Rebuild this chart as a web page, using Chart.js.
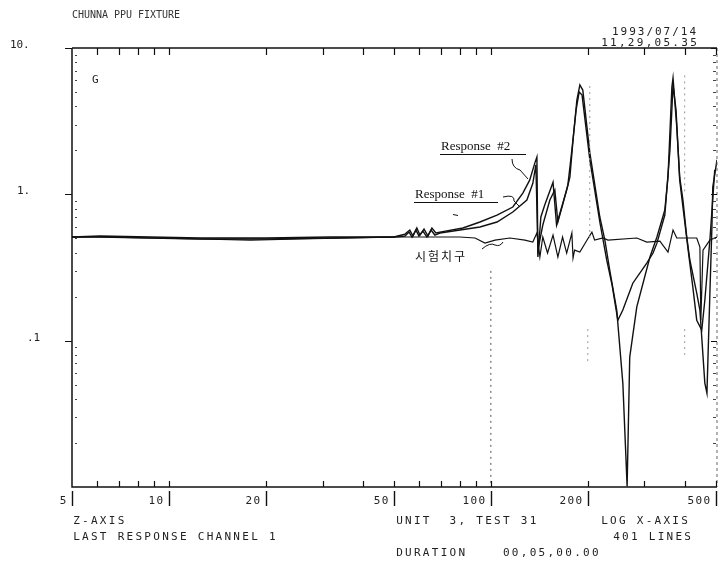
<!DOCTYPE html>
<html><head><meta charset="utf-8">
<script src="https://cdn.jsdelivr.net/npm/chart.js@4.4.1/dist/chart.umd.min.js"></script>
<style>html,body{margin:0;padding:0;background:#fff}#wrap{width:719px;height:563px;position:relative}</style>
</head><body><div id="wrap"><canvas id="c" width="719" height="563"></canvas></div>
<script>
// ---- data (frequency in Hz, response magnitude in G) ----
const freq2 = [5,6.11,8.74,12.5,20,31.6,50,54.1,56.0,57.3,58.9,60.2,62.0,63.8,65.6,67.5,69.5,81.9,92.5,104.5,117,125.7,132,137,139,140,143,147,156,160,166,172,176,180,185,189,193,203,218,226,234,246,257,265,270,284,312,328,347,355,365,368,378,386,395,406,415,436,446,462,469,479,486,489,504];
const resp2 = [0.511,0.519,0.511,0.503,0.503,0.511,0.511,0.535,0.570,0.519,0.589,0.527,0.579,0.519,0.589,0.544,0.552,0.589,0.647,0.722,0.819,1.02,1.25,1.64,1.80,0.373,0.700,0.845,1.21,0.617,0.819,1.07,1.31,2.35,4.41,5.59,5.16,1.92,0.700,0.487,0.304,0.162,0.0513,0.0101,0.0772,0.170,0.373,0.511,0.781,1.31,5.41,6.24,2.88,1.31,0.914,0.511,0.356,0.211,0.162,0.0513,0.0438,0.211,0.598,1.12,1.72];

const freq1 = [5,6.11,8.74,12.5,20,31.6,50,54.1,55.7,56.9,58.5,59.8,61.5,63.3,65.2,67.0,69.5,92.5,104.5,117,129.4,135,138,140,145,152.5,158,161.5,167,173.5,178.5,184,188,192,203,218,229,238,248,257,276,305,319,328,347,360,368,376,386,409,424,436,452,462,479,496];
const resp1 = [0.511,0.511,0.503,0.495,0.495,0.503,0.511,0.519,0.552,0.511,0.570,0.519,0.561,0.511,0.570,0.527,0.544,0.598,0.647,0.757,0.914,1.19,1.59,0.416,0.617,0.914,1.07,0.647,0.845,1.16,2.01,3.77,5.00,4.77,1.72,0.647,0.356,0.240,0.138,0.162,0.247,0.339,0.397,0.464,0.722,2.01,5.59,3.77,1.25,0.436,0.232,0.138,0.118,0.189,0.487,1.47];

const freqFix = [5,6.11,8.74,12.5,17.9,25.5,36.5,50,60.2,80.1,89.3,95.9,103,114.6,127.6,135,139,142,145,150,156,161.5,167,172,178.5,180,182,189,199,206,210,223,231,284,305,335,355,368,378,436,446,449,456,479,504];
const fixture = [0.511,0.511,0.503,0.495,0.487,0.495,0.503,0.511,0.511,0.511,0.503,0.464,0.487,0.503,0.487,0.472,0.544,0.373,0.511,0.397,0.527,0.373,0.511,0.397,0.544,0.367,0.416,0.403,0.487,0.552,0.487,0.503,0.487,0.503,0.472,0.479,0.403,0.570,0.503,0.503,0.436,0.138,0.416,0.487,0.511];

const xTickValues = [5,10,20,50,100,200,500];
const xTickLabels = ['5','10','20','50','100','200','500'];
const xMinorTicks = [6,7,8,9,10,20,30,40,50,60,70,80,90,100,200,300,400,500];
const yTickValues = [10,1,0.1];
const yTickLabels = ['10.','1.','.1'];
const yMinorTicks = [0.02,0.03,0.04,0.05,0.06,0.07,0.08,0.09,0.2,0.3,0.4,0.5,0.6,0.7,0.8,0.9,2,3,4,5,6,7,8,9];

const toPts = (xs, ys) => xs.map((x, i) => ({x: x, y: ys[i]}));

const MONO = '"DejaVu Sans Mono", "Liberation Mono", monospace';
function spaced(ctx, s, x, y, adv) {
  ctx.textAlign = 'center';
  for (let i = 0; i < s.length; i++) ctx.fillText(s[i], x + i * adv + adv / 2, y);
}

const decor = {
  id: 'decor',
  afterDraw(chart) {
    const ctx = chart.ctx, xs = chart.scales.x, ys = chart.scales.y;
    const a = chart.chartArea;
    ctx.save();
    // faint dotted verticals
    ctx.strokeStyle = '#555'; ctx.lineWidth = 1; ctx.setLineDash([2, 4]);
    let px = xs.getPixelForValue(100);
    ctx.beginPath(); ctx.moveTo(px, ys.getPixelForValue(0.3)); ctx.lineTo(px, a.bottom); ctx.stroke();
    ctx.strokeStyle = '#999';
    px = xs.getPixelForValue(200);
    ctx.beginPath(); ctx.moveTo(px + 2, ys.getPixelForValue(5.5)); ctx.lineTo(px + 2, ys.getPixelForValue(0.5)); ctx.stroke();
    ctx.beginPath(); ctx.moveTo(px, ys.getPixelForValue(0.12)); ctx.lineTo(px, ys.getPixelForValue(0.07)); ctx.stroke();
    px = xs.getPixelForValue(400);
    ctx.beginPath(); ctx.moveTo(px, ys.getPixelForValue(6.5)); ctx.lineTo(px, ys.getPixelForValue(1.0)); ctx.stroke();
    ctx.beginPath(); ctx.moveTo(px, ys.getPixelForValue(0.12)); ctx.lineTo(px, ys.getPixelForValue(0.08)); ctx.stroke();
    ctx.setLineDash([]);

    // frame
    ctx.strokeStyle = '#111'; ctx.lineWidth = 1.5;
    ctx.beginPath();
    ctx.moveTo(a.left, a.top); ctx.lineTo(a.right, a.top);
    ctx.moveTo(a.left, a.top); ctx.lineTo(a.left, a.bottom); ctx.lineTo(a.right, a.bottom);
    ctx.stroke();
    ctx.strokeStyle = '#666'; ctx.lineWidth = 1; ctx.setLineDash([3, 3]);
    ctx.beginPath(); ctx.moveTo(a.right, a.top); ctx.lineTo(a.right, a.bottom); ctx.stroke();
    ctx.setLineDash([]);

    // x minor ticks (inside, top and bottom)
    ctx.strokeStyle = '#111'; ctx.lineWidth = 1.2;
    ctx.beginPath();
    xMinorTicks.forEach(v => {
      const p = Math.round(xs.getPixelForValue(v)) + 0.5;
      ctx.moveTo(p, a.top); ctx.lineTo(p, a.top + 7);
      ctx.moveTo(p, a.bottom); ctx.lineTo(p, a.bottom - 6);
    });
    ctx.stroke();
    // x labelled ticks below axis
    ctx.lineWidth = 1.4;
    ctx.beginPath();
    xTickValues.forEach(v => {
      const p = Math.round(xs.getPixelForValue(v)) + 0.5;
      ctx.moveTo(p, a.bottom + 4); ctx.lineTo(p, a.bottom + 19);
    });
    ctx.stroke();
    ctx.fillStyle = '#222'; ctx.font = '11px ' + MONO; ctx.textBaseline = 'middle';
    xTickValues.forEach((v, i) => {
      const p = xs.getPixelForValue(v);
      const s = xTickLabels[i];
      spaced(ctx, s, p - 5 - s.length * 8, a.bottom + 14, 8);
    });

    // y minor ticks (inside left/right, dotted look)
    ctx.strokeStyle = '#444'; ctx.lineWidth = 1;
    ctx.beginPath();
    yMinorTicks.forEach(v => {
      const p = Math.round(ys.getPixelForValue(v)) + 0.5;
      ctx.moveTo(a.left + 3, p); ctx.lineTo(a.left + 5, p);
      ctx.moveTo(a.right - 4, p); ctx.lineTo(a.right - 1, p);
    });
    ctx.stroke();
    ctx.strokeStyle = '#111'; ctx.lineWidth = 1.2;
    ctx.beginPath();
    yTickValues.forEach(v => {
      const p = Math.round(ys.getPixelForValue(v)) + 0.5;
      ctx.moveTo(a.left - 7, p); ctx.lineTo(a.left, p);
      ctx.moveTo(a.right - 6, p); ctx.lineTo(a.right, p);
    });
    ctx.stroke();
    const yLabelX = [10, 17, 27];
    ctx.font = '11px ' + MONO;
    yTickValues.forEach((v, i) => {
      spaced(ctx, yTickLabels[i], yLabelX[i], ys.getPixelForValue(v) - 3, 6.5);
    });

    // header / footer texts
    ctx.fillStyle = '#333'; ctx.font = '10px ' + MONO; ctx.textBaseline = 'alphabetic';
    spaced(ctx, 'CHUNNA PPU FIXTURE', 72, 18, 6);
    ctx.font = '11px ' + MONO; ctx.fillStyle = '#222';
    spaced(ctx, '1993/07/14', 611, 35, 8.6);
    spaced(ctx, '11,29,05.35', 600, 46, 8.9);
    spaced(ctx, 'Z-AXIS', 72, 524, 8.9);
    spaced(ctx, 'LAST RESPONSE CHANNEL 1', 72, 540, 8.9);
    spaced(ctx, 'UNIT  3, TEST 31', 395, 524, 8.9);
    spaced(ctx, 'LOG X-AXIS', 600, 524, 8.9);
    spaced(ctx, '401 LINES', 612, 540, 8.9);
    spaced(ctx, 'DURATION    00,05,00.00', 395, 556, 8.9);

    // "G" unit mark
    ctx.font = '11px ' + MONO; ctx.textAlign = 'left';
    ctx.fillText('G', 92, 83);

    // annotations
    ctx.fillStyle = '#111'; ctx.font = '13px "Liberation Serif", "DejaVu Serif", serif';
    ctx.textAlign = 'left';
    ctx.fillText('Response  #2', 441, 150);
    ctx.fillText('Response  #1', 415, 198);
    ctx.strokeStyle = '#111'; ctx.lineWidth = 1;
    ctx.beginPath();
    ctx.moveTo(440, 154.5); ctx.lineTo(526, 154.5);
    ctx.moveTo(414, 202.5); ctx.lineTo(498, 202.5);
    ctx.stroke();
    ctx.beginPath();
    ctx.moveTo(512, 159); ctx.quadraticCurveTo(512, 168, 520, 170); ctx.lineTo(528, 179);
    ctx.moveTo(503, 197); ctx.quadraticCurveTo(515, 194, 514, 201); ctx.lineTo(519, 206);
    ctx.moveTo(482, 249); ctx.quadraticCurveTo(490, 242, 495, 245); ctx.quadraticCurveTo(500, 247, 503, 242);
    ctx.moveTo(453, 214.5); ctx.lineTo(458, 215.5);
    ctx.stroke();
    ctx.font = '12px "Noto Sans CJK KR", sans-serif';
    spaced(ctx, '시험치구', 414, 261, 13);
    ctx.restore();
  }
};

const lineStyle = {borderColor: '#111', borderWidth: 1.4, pointRadius: 0, tension: 0, fill: false};
new Chart(document.getElementById('c'), {
  type: 'line',
  data: {
    datasets: [
      Object.assign({label: 'Response #2', data: toPts(freq2, resp2)}, lineStyle),
      Object.assign({label: 'Response #1', data: toPts(freq1, resp1)}, lineStyle),
      Object.assign({label: '시험치구', data: toPts(freqFix, fixture)}, lineStyle, {borderWidth: 1.2})
    ]
  },
  options: {
    responsive: false, animation: false, devicePixelRatio: 1,
    layout: {padding: {left: 72, top: 48, right: 2, bottom: 76}},
    plugins: {legend: {display: false}, tooltip: {enabled: false}},
    scales: {
      x: {type: 'logarithmic', min: 5, max: 504, display: false},
      y: {type: 'logarithmic', min: 0.01, max: 10, display: false}
    }
  },
  plugins: [decor]
});
</script>
</body></html>
